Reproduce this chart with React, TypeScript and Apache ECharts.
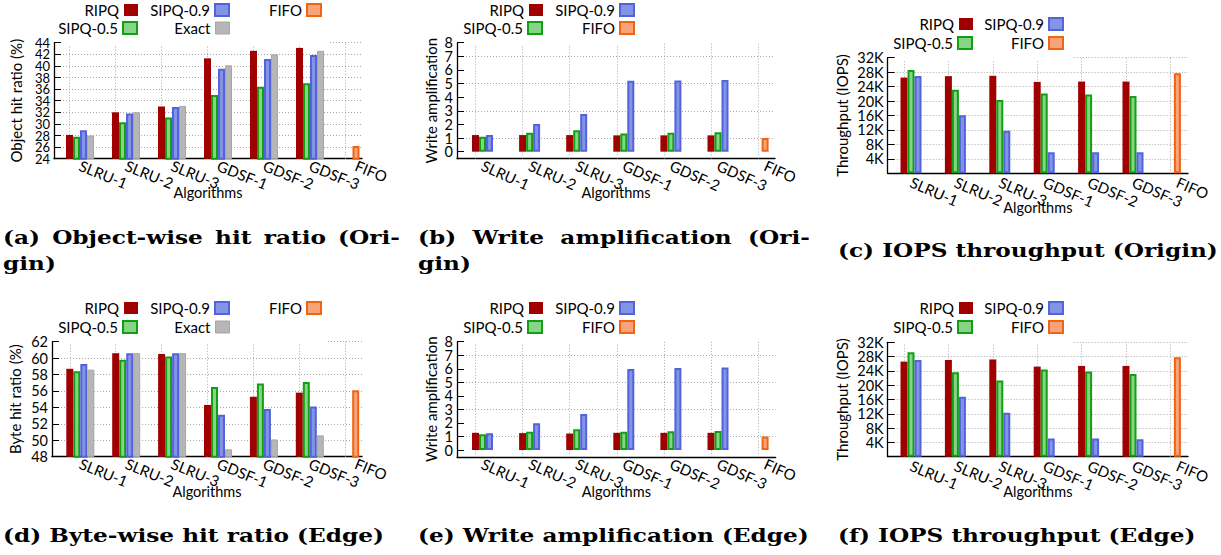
import React, { useEffect, useRef } from 'react';
import * as echarts from 'echarts';

const W = 1221;
const H = 555;
const FONT = 'Lato';

// ---------- data ----------
const categories = ['SLRU-1', 'SLRU-2', 'SLRU-3', 'GDSF-1', 'GDSF-2', 'GDSF-3', 'FIFO'];

// (a) Object-wise hit ratio (Origin), %
const objRipq = [28.1, 32.0, 33.0, 41.3, 42.6, 43.1];
const objSipq05 = [27.8, 30.3, 31.1, 35.0, 36.4, 37.0];
const objSipq09 = [28.9, 31.8, 32.9, 39.5, 41.2, 41.9];
const objExact = [28.0, 32.0, 33.1, 40.1, 42.0, 42.6];
const objFifo = 26.2;

// (b) Write amplification (Origin)
const waOriginRipq = [1.22, 1.22, 1.22, 1.2, 1.2, 1.2];
const waOriginSipq05 = [1.1, 1.39, 1.58, 1.34, 1.39, 1.42];
const waOriginSipq09 = [1.22, 2.03, 2.76, 5.2, 5.23, 5.26];
const waOriginFifo = 1.0;

// (c) IOPS throughput (Origin)
const iopsOriginRipq = [26500, 26900, 27000, 25300, 25400, 25400];
const iopsOriginSipq05 = [28600, 23100, 20300, 22100, 21800, 21400];
const iopsOriginSipq09 = [26900, 16100, 11800, 5800, 5800, 5800];
const iopsOriginFifo = 27700;

// (d) Byte-wise hit ratio (Edge), %
const byteRipq = [58.7, 60.6, 60.5, 54.3, 55.3, 55.8];
const byteSipq05 = [58.4, 59.8, 60.2, 56.5, 56.9, 57.1];
const byteSipq09 = [59.3, 60.6, 60.6, 53.1, 53.8, 54.1];
const byteExact = [58.6, 60.6, 60.6, 48.9, 50.1, 50.6];
const byteFifo = 56.1;

// (e) Write amplification (Edge)
const waEdgeRipq = [1.27, 1.25, 1.22, 1.27, 1.27, 1.27];
const waEdgeSipq05 = [1.16, 1.35, 1.53, 1.35, 1.38, 1.4];
const waEdgeSipq09 = [1.23, 1.97, 2.66, 5.99, 6.06, 6.1];
const waEdgeFifo = 0.99;

// (f) IOPS throughput (Edge)
const iopsEdgeRipq = [26600, 27050, 27200, 25200, 25400, 25400];
const iopsEdgeSipq05 = [29200, 23600, 21300, 24400, 23800, 23100];
const iopsEdgeSipq09 = [27050, 16800, 12300, 5100, 5100, 4900];
const iopsEdgeFifo = 27800;

// tick values
const hitOriginTicks = [24, 26, 28, 30, 32, 34, 36, 38, 40, 42, 44];
const hitEdgeTicks = [48, 50, 52, 54, 56, 58, 60, 62];
const waTicks = [0, 1, 2, 3, 4, 5, 6, 7, 8];
const iopsTicks = [0, 4000, 8000, 12000, 16000, 20000, 24000, 28000, 32000];

// ---------- styles ----------
const STYLES: Record<string, any> = {
  RIPQ: { color: '#a00000', borderColor: '#a00000', borderWidth: 0 },
  'SIPQ-0.5': { color: '#86d486', borderColor: '#12a012', borderWidth: 2 },
  'SIPQ-0.9': { color: '#8494e4', borderColor: '#5363dc', borderWidth: 2 },
  Exact: { color: '#b6b6b6', borderColor: '#a6a6a6', borderWidth: 1 },
  FIFO: { color: '#f8a478', borderColor: '#f06414', borderWidth: 2 },
};
const GRID_COLOR = '#a8a8a8';
const DOT: any = [1, 2];

type Panel = {
  axisX: number; axisEnd: number; top: number; bottom: number; c0: number; s: number;
  ticks: number[]; yMin: number; yMax: number; interval: number; k?: boolean; labelSize: number;
  yName: string; yNameGap: number; xNameGap: number; rotate: number; labelMargin: number;
  bars: { name: string; values: number[] }[]; fifo: number;
  legend: { name: string; r: number; cy: number }[]; maskEnd: number;
};

const fmtK = (v: number) => (v === 0 ? '' : `${Math.round(v / 1000)}K`);

const panels: Panel[] = [
  {
    axisX: 54, axisEnd: 362, top: 42.7, bottom: 158.7, c0: 80, s: 46,
    ticks: hitOriginTicks, yMin: 24, yMax: 44, interval: 2, labelSize: 13,
    yName: 'Object hit ratio (%)', yNameGap: 31, xNameGap: 26, rotate: -22, labelMargin: 6,
    bars: [
      { name: 'RIPQ', values: objRipq },
      { name: 'SIPQ-0.5', values: objSipq05 },
      { name: 'SIPQ-0.9', values: objSipq09 },
      { name: 'Exact', values: objExact },
    ],
    fifo: objFifo,
    legend: [
      { name: 'RIPQ', r: 138, cy: 11 }, { name: 'SIPQ-0.9', r: 230, cy: 11 }, { name: 'FIFO', r: 322, cy: 11 },
      { name: 'SIPQ-0.5', r: 138, cy: 29 }, { name: 'Exact', r: 230, cy: 29 },
    ],
    maskEnd: 328,
  },
  {
    axisX: 457, axisEnd: 775, top: 42.7, bottom: 158.5, c0: 482.5, s: 47.1,
    ticks: waTicks, yMin: -0.5, yMax: 8, interval: 0.5, labelSize: 14.5,
    yName: 'Write amplification', yNameGap: 19, xNameGap: 26, rotate: -24, labelMargin: 6,
    bars: [
      { name: 'RIPQ', values: waOriginRipq },
      { name: 'SIPQ-0.5', values: waOriginSipq05 },
      { name: 'SIPQ-0.9', values: waOriginSipq09 },
    ],
    fifo: waOriginFifo,
    legend: [
      { name: 'RIPQ', r: 543, cy: 11 }, { name: 'SIPQ-0.9', r: 635, cy: 11 },
      { name: 'SIPQ-0.5', r: 543, cy: 29 }, { name: 'FIFO', r: 635, cy: 29 },
    ],
    maskEnd: 642,
  },
  {
    axisX: 887.7, axisEnd: 1188, top: 57.7, bottom: 173.3, c0: 911, s: 44.4,
    ticks: iopsTicks, yMin: 0, yMax: 32000, interval: 4000, k: true, labelSize: 14.5,
    yName: 'Throughput (IOPS)', yNameGap: 38, xNameGap: 27, rotate: -23, labelMargin: 8,
    bars: [
      { name: 'RIPQ', values: iopsOriginRipq },
      { name: 'SIPQ-0.5', values: iopsOriginSipq05 },
      { name: 'SIPQ-0.9', values: iopsOriginSipq09 },
    ],
    fifo: iopsOriginFifo,
    legend: [
      { name: 'RIPQ', r: 973, cy: 25 }, { name: 'SIPQ-0.9', r: 1064, cy: 25 },
      { name: 'SIPQ-0.5', r: 973, cy: 44 }, { name: 'FIFO', r: 1064, cy: 44 },
    ],
    maskEnd: 1072,
  },
  {
    axisX: 52, axisEnd: 362, top: 341.7, bottom: 456.7, c0: 80.3, s: 45.9,
    ticks: hitEdgeTicks, yMin: 48, yMax: 62, interval: 2, labelSize: 14.5,
    yName: 'Byte hit ratio (%)', yNameGap: 30, xNameGap: 27, rotate: -22, labelMargin: 6,
    bars: [
      { name: 'RIPQ', values: byteRipq },
      { name: 'SIPQ-0.5', values: byteSipq05 },
      { name: 'SIPQ-0.9', values: byteSipq09 },
      { name: 'Exact', values: byteExact },
    ],
    fifo: byteFifo,
    legend: [
      { name: 'RIPQ', r: 138, cy: 309 }, { name: 'SIPQ-0.9', r: 230, cy: 309 }, { name: 'FIFO', r: 322, cy: 309 },
      { name: 'SIPQ-0.5', r: 138, cy: 328 }, { name: 'Exact', r: 230, cy: 328 },
    ],
    maskEnd: 328,
  },
  {
    axisX: 457, axisEnd: 775.7, top: 341.7, bottom: 456.8, c0: 482.5, s: 47.1,
    ticks: waTicks, yMin: -0.5, yMax: 8, interval: 0.5, labelSize: 14.5,
    yName: 'Write amplification', yNameGap: 19, xNameGap: 27, rotate: -24, labelMargin: 6,
    bars: [
      { name: 'RIPQ', values: waEdgeRipq },
      { name: 'SIPQ-0.5', values: waEdgeSipq05 },
      { name: 'SIPQ-0.9', values: waEdgeSipq09 },
    ],
    fifo: waEdgeFifo,
    legend: [
      { name: 'RIPQ', r: 543, cy: 309 }, { name: 'SIPQ-0.9', r: 635, cy: 309 },
      { name: 'SIPQ-0.5', r: 543, cy: 328 }, { name: 'FIFO', r: 635, cy: 328 },
    ],
    maskEnd: 642,
  },
  {
    axisX: 887.7, axisEnd: 1188, top: 342.3, bottom: 456.7, c0: 911, s: 44.4,
    ticks: iopsTicks, yMin: 0, yMax: 32000, interval: 4000, k: true, labelSize: 14.5,
    yName: 'Throughput (IOPS)', yNameGap: 38, xNameGap: 27, rotate: -23, labelMargin: 8,
    bars: [
      { name: 'RIPQ', values: iopsEdgeRipq },
      { name: 'SIPQ-0.5', values: iopsEdgeSipq05 },
      { name: 'SIPQ-0.9', values: iopsEdgeSipq09 },
    ],
    fifo: iopsEdgeFifo,
    legend: [
      { name: 'RIPQ', r: 973, cy: 309 }, { name: 'SIPQ-0.9', r: 1064, cy: 309 },
      { name: 'SIPQ-0.5', r: 973, cy: 328 }, { name: 'FIFO', r: 1064, cy: 328 },
    ],
    maskEnd: 1072,
  },
];

// captions
const captions = [
  { lines: ['(a) Object-wise hit ratio (Ori-', 'gin)'], x: 3, y: 237, width: 397 },
  { lines: ['(b) Write amplification (Ori-', 'gin)'], x: 418, y: 237, width: 392 },
  { lines: ['(c) IOPS throughput (Origin)'], x: 838, y: 250, width: 0 },
  { lines: ['(d) Byte-wise hit ratio (Edge)'], x: 3, y: 535, width: 0 },
  { lines: ['(e) Write amplification (Edge)'], x: 418, y: 535, width: 0 },
  { lines: ['(f) IOPS throughput (Edge)'], x: 838, y: 535, width: 0 },
];
const CAP_SIZE = 19;
const CAP_FAMILY = 'DejaVu Serif';
const CAP_LINE = 26;

function measure(t: string) {
  const ctx = document.createElement('canvas').getContext('2d')!;
  ctx.font = `bold ${CAP_SIZE}px "${CAP_FAMILY}"`;
  return ctx.measureText(t).width;
}

function buildOption() {
  const grid: any[] = [];
  const xAxis: any[] = [];
  const yAxis: any[] = [];
  const series: any[] = [];
  const legend: any[] = [];
  const graphic: any[] = [];

  const nameStyle = { fontFamily: FONT, fontSize: 15, color: '#000' };

  panels.forEach((p, k) => {
    grid.push({
      left: p.axisX, top: p.top, width: p.axisEnd - p.axisX, height: p.bottom - p.top,
      containLabel: false, outerBoundsMode: 'none',
    });
    const xMin = (p.axisX - p.c0) / p.s;
    const xMax = (p.axisEnd - p.c0) / p.s;
    const mainX = xAxis.length;
    xAxis.push({
      gridIndex: k, type: 'value', min: xMin, max: xMax, position: 'bottom',
      axisLine: { show: true, onZero: false, lineStyle: { color: '#000', width: 1.3 } },
      axisTick: { show: false },
      splitLine: { show: false },
      axisLabel: {
        customValues: categories.map((_, i) => i),
        formatter: (v: number) => categories[Math.round(v)] ?? '',
        showMinLabel: true, showMaxLabel: true,
        rotate: p.rotate, margin: p.labelMargin, fontFamily: FONT, fontSize: 15, color: '#000',
      },
      name: 'Algorithms', nameLocation: 'middle', nameGap: p.xNameGap, nameMoveOverlap: false,
      nameTextStyle: { ...nameStyle, fontSize: 14.5 },
    });
    const fifoX = xAxis.length;
    xAxis.push({ gridIndex: k, type: 'value', min: xMin, max: xMax, show: false });

    const evenTicks = p.ticks.filter((_, i) => i % 2 === 0);
    const oddTicks = p.ticks.filter((_, i) => i % 2 === 1);
    const labelBase = {
      fontFamily: FONT, fontSize: p.labelSize, color: '#000', margin: 4,
      showMinLabel: true, showMaxLabel: true,
      ...(p.k ? { formatter: fmtK } : {}),
    };
    const hasHalf = p.interval !== (p.ticks[1] - p.ticks[0]);
    const yIdx = yAxis.length;
    yAxis.push({
      gridIndex: k, type: 'value', min: p.yMin, max: p.yMax, interval: p.interval, position: 'left', offset: 0,
      axisLine: { show: true, onZero: false, lineStyle: { color: '#000', width: 1.3 } },
      axisTick: { show: true, inside: true, length: 7, lineStyle: { color: '#000' }, customValues: p.ticks },
      axisLabel: { ...labelBase, customValues: evenTicks },
      splitLine: {
        show: true,
        lineStyle: { color: hasHalf ? ['transparent', GRID_COLOR] : GRID_COLOR, type: DOT, width: 1 },
      },
      name: p.yName, nameLocation: 'middle', nameGap: p.yNameGap, nameMoveOverlap: false,
      nameTextStyle: nameStyle,
    });
    yAxis.push({
      gridIndex: k, type: 'value', min: p.yMin, max: p.yMax, interval: p.interval, position: 'left', offset: 0,
      axisLine: { show: false, onZero: false },
      axisTick: { show: false },
      splitLine: { show: false },
      axisLabel: { ...labelBase, customValues: oddTicks },
    });

    p.bars.forEach((b, bi) => {
      series.push({
        type: 'bar', name: b.name, xAxisIndex: mainX, yAxisIndex: yIdx,
        data: b.values.map((v, i) => [i, v]),
        barWidth: 7, barGap: '0%', clip: true, z: 2 + bi,
        itemStyle: STYLES[b.name],
        emphasis: { disabled: true },
        ...(bi === 0
          ? {
              markLine: {
                silent: true, symbol: 'none', z: 1, animation: false,
                label: { show: false }, emphasis: { disabled: true },
                lineStyle: { color: GRID_COLOR, type: DOT, width: 1 },
                data: categories.map((_, i) => ({ xAxis: i })),
              },
            }
          : {}),
      });
    });
    series.push({
      type: 'bar', name: 'FIFO', xAxisIndex: fifoX, yAxisIndex: yIdx,
      data: [[categories.length - 1, p.fifo]],
      barWidth: 7, clip: true, z: 3,
      itemStyle: STYLES.FIFO, emphasis: { disabled: true },
    });

    p.legend.forEach((l) => {
      legend.push({
        data: [{ name: l.name, itemStyle: STYLES[l.name] }],
        right: W - l.r, top: l.cy - 8.5, align: 'right', orient: 'horizontal',
        itemWidth: 14, itemHeight: 12, padding: 0, selectedMode: false, icon: 'rect',
        textStyle: { fontFamily: FONT, fontSize: 15, color: '#000' },
      });
    });

    graphic.push({
      type: 'rect', z: 50, silent: true,
      shape: { x: p.axisX + 8, y: p.top - 2, width: p.maskEnd - p.axisX - 8, height: 4 },
      style: { fill: '#fff' },
    });
  });

  const scale = 380 / measure('(c) IOPS throughput (Origin)');
  captions.forEach((c) => {
    c.lines.forEach((line, li) => {
      const yy = c.y + li * CAP_LINE;
      const style = { fontSize: CAP_SIZE, fontWeight: 'bold', fontFamily: CAP_FAMILY, fill: '#000', verticalAlign: 'middle', align: 'left' };
      if (li === 0 && c.width > 0) {
        const words = line.split(' ');
        const ws = words.map((w) => measure(w) * scale);
        const gap = (c.width - ws.reduce((a, b) => a + b, 0)) / (words.length - 1);
        let xx = c.x;
        words.forEach((w, wi) => {
          graphic.push({ type: 'text', x: xx, y: yy, scaleX: scale, silent: true, style: { ...style, text: w } });
          xx += ws[wi] + gap;
        });
      } else {
        graphic.push({ type: 'text', x: c.x, y: yy, scaleX: scale, silent: true, style: { ...style, text: line } });
      }
    });
  });

  return {
    animation: false,
    backgroundColor: '#fff',
    textStyle: { fontFamily: FONT },
    tooltip: { show: false },
    grid, xAxis, yAxis, series, legend, graphic,
  };
}

export default function App() {
  const ref = useRef<HTMLDivElement>(null);
  useEffect(() => {
    document.body.style.margin = '0';
    const chart = echarts.init(ref.current!, null, { renderer: 'svg' });
    chart.setOption(buildOption() as any);
    return () => chart.dispose();
  }, []);
  return <div ref={ref} style={{ width: W, height: H }} />;
}
